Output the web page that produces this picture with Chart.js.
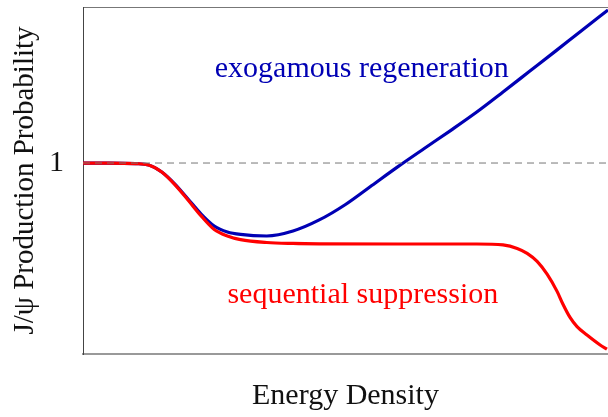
<!DOCTYPE html>
<html>
<head>
<meta charset="utf-8">
<script src="https://cdn.jsdelivr.net/npm/chart.js@4"></script>
<style>
  html, body { margin: 0; padding: 0; background: #fff; }
  #wrap { width: 608px; height: 417px; }
</style>
</head>
<body>
<div id="wrap"><canvas id="chart"></canvas></div>
<script>
// Curves, energy density (arbitrary units 0..10) vs production probability.
const regenEnergy = [0, 0.5, 1.0, 1.25, 1.5, 1.75, 2.0, 2.25, 2.5, 2.75, 3.0, 3.5, 4.0, 4.5, 5.0, 5.5, 6.0, 6.5, 7.0, 7.5, 8.0, 8.5, 9.0, 9.5, 10.0];
const regenProb   = [1.0, 1.0, 0.997, 0.99, 0.953, 0.89, 0.812, 0.733, 0.67, 0.639, 0.626, 0.618, 0.644, 0.702, 0.783, 0.882, 0.981, 1.076, 1.17, 1.267, 1.372, 1.479, 1.586, 1.694, 1.801];

const suppEnergy = [0, 0.5, 1.0, 1.25, 1.5, 1.75, 2.0, 2.25, 2.5, 2.75, 3.0, 3.5, 4.0, 4.5, 6.0, 7.5, 8.0, 8.27, 8.46, 8.65, 8.84, 9.03, 9.14, 9.28, 9.41, 9.6, 9.85, 9.98];
const suppProb   = [1.0, 1.0, 0.997, 0.99, 0.953, 0.887, 0.806, 0.723, 0.652, 0.618, 0.599, 0.584, 0.579, 0.577, 0.576, 0.576, 0.571, 0.553, 0.527, 0.485, 0.418, 0.328, 0.262, 0.19, 0.143, 0.099, 0.047, 0.025];

const yTicks = [1];

// Text labels placed in data space.
const labels = [
  { text: 'exogamous regeneration', x: 5.31, y: 1.45, color: '#0000b4' },
  { text: 'sequential suppression', x: 5.33, y: 0.267, color: '#ff0000' },
];

const serif = "'Liberation Serif', 'DejaVu Serif', serif";

const toPoints = (xs, ys) => xs.map((x, i) => ({ x, y: ys[i] }));

// No extra room for tick labels at the scale ends.
const noPadding = (scale) => {
  scale.paddingTop = 0;
  scale.paddingBottom = 0;
  scale.paddingLeft = 0;
  scale.paddingRight = 0;
};

const curveLabels = {
  id: 'curveLabels',
  afterDatasetsDraw: (chart) => {
    const { ctx, scales: { x, y } } = chart;
    ctx.save();
    ctx.font = '30px ' + serif;
    ctx.textAlign = 'center';
    ctx.textBaseline = 'alphabetic';
    labels.forEach(l => {
      ctx.fillStyle = l.color;
      ctx.fillText(l.text, x.getPixelForValue(l.x), y.getPixelForValue(l.y));
    });
    ctx.restore();
  }
};

new Chart(document.getElementById('chart').getContext('2d'), {
  type: 'line',
  data: {
    datasets: [
      {
        label: 'unity',
        data: [{ x: 0, y: 1 }, { x: 10, y: 1 }],
        borderColor: '#777',
        borderWidth: 1,
        borderDash: [7, 5],
        pointRadius: 0,
      },
      {
        label: 'sequential suppression',
        data: toPoints(suppEnergy, suppProb),
        borderColor: '#ff0000',
        borderWidth: 3.2,
        pointRadius: 0,
        cubicInterpolationMode: 'monotone',
      },
      {
        label: 'exogamous regeneration',
        data: toPoints(regenEnergy, regenProb),
        borderColor: '#0000b4',
        borderWidth: 3.2,
        pointRadius: 0,
        cubicInterpolationMode: 'monotone',
      },
    ],
  },
  options: {
    responsive: true,
    maintainAspectRatio: false,
    animation: false,
    layout: { padding: 0 },
    plugins: {
      legend: { display: false },
      tooltip: { enabled: false },
    },
    scales: {
      x: {
        type: 'linear',
        min: 0,
        max: 10,
        grid: { display: false },
        border: { display: true, color: '#999', width: 2 },
        ticks: { display: false },
        title: {
          display: true,
          text: 'Energy Density',
          color: '#111',
          font: { family: serif, size: 30 },
          padding: { top: 0, bottom: 3 },
        },
        afterFit: (scale) => { scale.height = 63; noPadding(scale); },
      },
      x2: {
        type: 'linear',
        position: 'top',
        display: true,
        grid: { display: false },
        border: { display: true, color: '#777', width: 1 },
        ticks: { display: false },
        afterFit: (scale) => { scale.height = 7; noPadding(scale); },
      },
      y: {
        min: 0,
        max: 1.817,
        grid: { display: false },
        border: { display: true, color: '#444', width: 1 },
        afterBuildTicks: (scale) => { scale.ticks = yTicks.map(v => ({ value: v })); },
        ticks: {
          color: '#111',
          padding: 11,
          font: { family: serif, size: 30 },
        },
        title: {
          display: true,
          text: 'J/ψ Production Probability',
          color: '#111',
          font: { family: serif, size: 29 },
          padding: { top: 8, bottom: 0 },
        },
        afterFit: (scale) => { scale.width = 83; noPadding(scale); },
      },
    },
  },
  plugins: [curveLabels],
});
</script>
</body>
</html>
